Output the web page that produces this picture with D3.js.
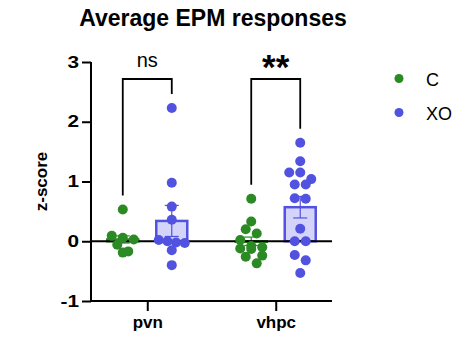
<!DOCTYPE html>
<html>
<head>
<meta charset="utf-8">
<script src="https://cdn.jsdelivr.net/npm/d3@7"></script>
<style>
  body { margin: 0; background: #fff; }
  text { font-family: "Liberation Sans", Arial, sans-serif; }
</style>
</head>
<body>
<div id="chart"></div>
<script>
'use strict'

// regions on the x axis, groups inside each region
const regions = ['pvn', 'vhpc']
const groups = ['C', 'XO']

// individual z-scores
const pvnC = [0.53, 0.09, 0.06, 0.03, -0.06, -0.17, -0.19]
const pvnXO = [2.23, 0.98, 0.58, 0.36, 0.02, 0.0, -0.02, -0.03, -0.15, -0.40]
const vhpcC = [0.71, 0.33, 0.20, 0.13, 0.02, -0.08, -0.10, -0.12, -0.13, -0.24, -0.26, -0.37]
const vhpcXO = [1.65, 1.34, 1.15, 1.15, 1.04, 0.95, 0.95, 0.72, 0.71, 0.21, 0.0, 0.0, -0.23, -0.32, -0.53]

// bar heights (mean) and error bars (SEM) as drawn
const means = [0.03, 0.34, 0.0, 0.57]
const sems = [0.06, 0.26, 0.07, 0.18]

// significance labels per region
const sigLabels = ['ns', '**']

const yTicks = [-1, 0, 1, 2, 3]

const colors = {C: '#2b8a24', XO: '#5252e0'}
const fills = {C: '#cfe6cc', XO: '#d4d4fa'}

const series = [
    {region: 'pvn', group: 'C', values: pvnC, mean: means[0], sem: sems[0]},
    {region: 'pvn', group: 'XO', values: pvnXO, mean: means[1], sem: sems[1]},
    {region: 'vhpc', group: 'C', values: vhpcC, mean: means[2], sem: sems[2]},
    {region: 'vhpc', group: 'XO', values: vhpcXO, mean: means[3], sem: sems[3]}
]

const svgWidth = 457, svgHeight = 337
const plotL = 91, plotR = 332, plotT = 62, plotB = 301
const r = 5, barW = 31

const svg = d3.select('#chart').append('svg')
    .attr('width', svgWidth)
    .attr('height', svgHeight)

const x = d3.scalePoint().domain(regions).range([plotL, plotR]).padding(0.438)
const xg = d3.scalePoint().domain(groups).range([-24.5, 24.5])
const y = d3.scaleLinear().domain([-1, 3]).range([plotB, plotT])

const cx = d => x(d.region) + xg(d.group)

// title
svg.append('text')
    .attr('x', 213).attr('y', 26)
    .attr('text-anchor', 'middle')
    .attr('font-size', 23).attr('font-weight', 'bold')
    .text('Average EPM responses')

// y axis label
svg.append('text')
    .attr('transform', 'translate(47,' + ((plotT + plotB) / 2) + ') rotate(-90)')
    .attr('text-anchor', 'middle')
    .attr('font-size', 17).attr('font-weight', 'bold')
    .text('z-score')

// bars
const bars = svg.append('g').selectAll('g').data(series).join('g')

bars.append('rect')
    .attr('x', d => cx(d) - barW / 2)
    .attr('width', barW)
    .attr('y', d => Math.min(y(d.mean), y(0)))
    .attr('height', d => Math.max(Math.abs(y(d.mean) - y(0)), 0.5))
    .attr('fill', d => fills[d.group])
    .attr('stroke', d => colors[d.group])
    .attr('stroke-width', 2.5)

// error bars (SEM)
bars.append('line')
    .attr('x1', cx).attr('x2', cx)
    .attr('y1', d => y(d.mean - d.sem))
    .attr('y2', d => y(d.mean + d.sem))
    .attr('stroke', d => colors[d.group])
    .attr('stroke-width', 1.2)

bars.selectAll('.cap').data(d => [d.mean - d.sem, d.mean + d.sem].map(v => ({d, v}))).join('line')
    .attr('class', 'cap')
    .attr('x1', e => cx(e.d) - 7).attr('x2', e => cx(e.d) + 7)
    .attr('y1', e => y(e.v)).attr('y2', e => y(e.v))
    .attr('stroke', e => colors[e.d.group])
    .attr('stroke-width', 1.2)

// scatter layout: close values go in one row, rows are centred
function swarm(values, rowH) {
    const rows = []
    values.slice().sort((a, b) => b - a).forEach(v => {
        const py = y(v)
        const last = rows[rows.length - 1]
        if (last && py - last[0].py < rowH) last.push({v, py})
        else rows.push([{v, py}])
    })
    rows.forEach(row => {
        const step = row.length > 3 ? 26 / (row.length - 1) : 11
        row.forEach((p, i) => { p.dx = (i - (row.length - 1) / 2) * step })
    })
    return rows.flat()
}

// zero line
svg.append('line')
    .attr('x1', plotL).attr('x2', plotR)
    .attr('y1', y(0)).attr('y2', y(0))
    .attr('stroke', '#000').attr('stroke-width', 2)

// points
series.forEach(s => {
    svg.append('g').selectAll('circle')
        .data(swarm(s.values, 7.5))
        .join('circle')
        .attr('cx', p => cx(s) + p.dx)
        .attr('cy', p => p.py)
        .attr('r', r)
        .attr('fill', colors[s.group])
})

// axes
const yAxis = svg.append('g')
    .attr('transform', 'translate(' + plotL + ',0)')
    .call(d3.axisLeft(y).tickValues(yTicks).tickSize(9).tickPadding(3).tickFormat(d => String(d)))
const xAxis = svg.append('g')
    .attr('transform', 'translate(0,' + plotB + ')')
    .call(d3.axisBottom(x).tickSize(10).tickPadding(5))

;[yAxis, xAxis].forEach(a => {
    a.select('.domain').remove()
    a.selectAll('.tick line').attr('stroke-width', 2)
    a.selectAll('text').attr('font-weight', 'bold').attr('fill', '#000')
})
xAxis.selectAll('text').attr('font-size', 17)
// the digits in the original are drawn wide
yAxis.selectAll('text').attr('font-size', 16).each(function () {
    const t = d3.select(this)
    const x0 = +t.attr('x')
    t.attr('x', 0).attr('transform', 'translate(' + x0 + ',0) scale(1.3,1)')
})

svg.append('path')
    .attr('d', `M${plotL},${plotT}V${plotB}H${plotR}`)
    .attr('fill', 'none').attr('stroke', '#000').attr('stroke-width', 2)

// significance brackets
const bracketY = 79
regions.forEach((reg, i) => {
    const ser = series.filter(s => s.region === reg)
    const ends = ser.map(s => y(d3.max(s.values)) - 14)
    const x0 = cx(ser[0]), x1 = cx(ser[1])
    const ns = sigLabels[i] === 'ns'
    svg.append('path')
        .attr('d', `M${x0},${ends[0]}V${bracketY}H${x1}V${ends[1]}`)
        .attr('fill', 'none').attr('stroke', '#000').attr('stroke-width', 1.8)
    svg.append('text')
        .attr('x', (x0 + x1) / 2)
        .attr('y', ns ? 67 : 79)
        .attr('text-anchor', 'middle')
        .attr('font-size', ns ? 20 : 35)
        .attr('font-weight', ns ? 'normal' : 'bold')
        .text(sigLabels[i])
})

// legend
const legend = svg.append('g').selectAll('g').data(groups).join('g')
    .attr('transform', (d, i) => 'translate(399,' + (78.5 + i * 34) + ')')
legend.append('circle').attr('r', 4.5).attr('fill', d => colors[d])
legend.append('text')
    .attr('x', 27).attr('y', 7)
    .attr('font-size', 18)
    .text(d => d)
</script>
</body>
</html>
